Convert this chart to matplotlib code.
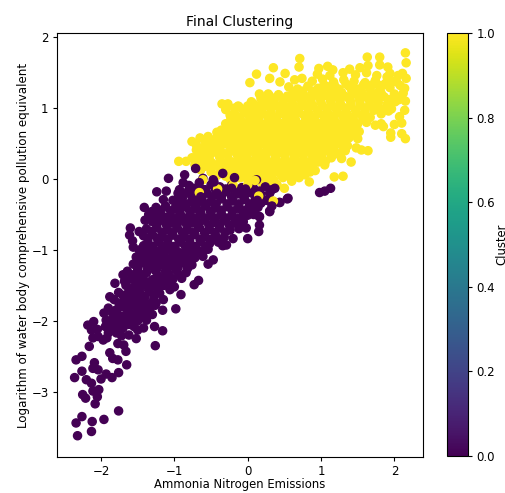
import matplotlib
matplotlib.use("Agg")
import matplotlib.pyplot as plt
import numpy as np

yellow_x = [2.15,2.16,1.80,1.63,0.71,0.70,0.35,0.51,0.12,0.30,0.03,0.44,0.64,0.97,1.09,1.16,1.39,1.53,1.64,1.80,1.91,1.94,2.11,2.16,2.03,2.14,2.12,2.15,2.01,1.96,2.14,1.82,2.07,1.82,2.10,2.00,1.85,1.95,1.95,2.10,2.15,1.64,1.55,1.41,1.30,1.18,1.28,1.05,0.84,0.85,0.50,-0.35,-0.27,-0.13,0.05,0.16,0.28,-0.22,-0.36,-0.27,-0.76,-0.54,-0.43,-0.94,-0.84,-0.70,-0.65,-0.50]
yellow_y = [1.78,1.64,1.72,1.72,1.70,1.58,1.57,1.49,1.48,1.42,1.36,1.37,1.40,1.56,1.59,1.54,1.55,1.57,1.60,1.61,1.58,1.49,1.49,1.42,1.37,1.28,1.21,1.10,1.09,0.99,0.97,0.92,0.88,0.78,0.79,0.77,0.74,0.65,0.59,0.64,0.57,0.40,0.41,0.24,0.04,0.03,0.29,0.20,-0.04,0.10,-0.13,1.06,1.06,1.03,1.09,1.20,1.20,0.85,0.69,0.71,0.53,0.60,0.57,0.25,0.25,0.41,0.29,0.22]

yellow_body = [
 (0.95,1.48),(1.12,1.46),(1.30,1.50),(1.47,1.47),(1.62,1.50),(1.76,1.46),(1.90,1.44),
 (0.74,1.42),(0.88,1.38),(1.02,1.41),(1.17,1.37),(1.31,1.40),(1.45,1.38),(1.60,1.36),(1.74,1.39),(1.88,1.35),(2.05,1.46),
 (0.56,1.30),(0.68,1.27),(0.82,1.31),(0.96,1.28),(1.10,1.30),(1.24,1.27),(1.38,1.31),(1.52,1.27),(1.66,1.29),(1.80,1.26),(1.94,1.29),(2.08,1.32),
 (0.18,1.14),(0.30,1.17),(0.42,1.19),(0.54,1.17),(0.66,1.20),(0.78,1.17),(0.92,1.20),(1.05,1.18),(1.18,1.20),(1.32,1.17),(1.46,1.20),(1.58,1.17),(1.72,1.19),(1.86,1.16),(2.00,1.20),
 (0.08,1.06),(0.20,1.08),(0.34,1.10),(0.48,1.07),(0.60,1.10),(0.74,1.08),(0.86,1.10),(1.00,1.08),(1.13,1.10),(1.26,1.08),(1.40,1.10),(1.53,1.08),(1.66,1.11),(1.78,1.08),(1.90,1.05),(2.06,1.12),
 (-0.30,0.98),(-0.18,1.00),(-0.06,0.97),(0.06,0.99),(0.18,0.97),(0.31,1.00),(0.44,0.97),(0.56,1.00),(0.69,0.98),(0.82,1.00),(0.95,0.97),(1.08,1.00),(1.21,0.98),(1.34,1.00),(1.47,0.97),(1.60,1.00),(1.72,0.97),(1.86,0.99),
 (-0.24,0.90),(-0.11,0.87),(0.01,0.90),(0.13,0.88),(0.26,0.90),(0.39,0.87),(0.51,0.90),(0.64,0.88),(0.77,0.90),(0.90,0.87),(1.03,0.90),(1.16,0.88),(1.29,0.90),(1.42,0.87),(1.55,0.90),(1.67,0.87),
 (-0.30,0.78),(-0.17,0.80),(-0.04,0.78),(0.08,0.80),(0.21,0.77),(0.34,0.80),(0.46,0.78),(0.59,0.80),(0.72,0.77),(0.85,0.80),(0.98,0.78),(1.11,0.80),(1.24,0.77),(1.37,0.80),(1.50,0.78),(1.62,0.80),(1.74,0.76),
 (-0.42,0.66),(-0.28,0.62),(-0.15,0.70),(-0.02,0.67),(0.11,0.70),(0.23,0.67),(0.36,0.70),(0.49,0.68),(0.62,0.70),(0.75,0.67),(0.88,0.70),(1.01,0.67),(1.13,0.70),(1.26,0.67),(1.39,0.70),(1.52,0.67),
 (-0.65,0.58),(-0.58,0.50),(-0.42,0.47),(-0.16,0.58),(-0.03,0.60),(0.09,0.57),(0.22,0.60),(0.35,0.58),(0.48,0.60),(0.60,0.57),(0.73,0.60),(0.86,0.58),(0.99,0.60),(1.12,0.57),(1.25,0.60),(1.38,0.58),(1.50,0.57),
 (-0.70,0.48),(-0.30,0.50),(-0.17,0.47),(-0.05,0.50),(0.08,0.47),(0.21,0.50),(0.33,0.48),(0.46,0.50),(0.59,0.47),(0.72,0.50),(0.85,0.48),(0.98,0.50),(1.10,0.47),(1.23,0.50),(1.36,0.47),(1.48,0.44),
 (-0.58,0.38),(-0.46,0.40),(-0.34,0.37),(-0.21,0.40),(-0.08,0.38),(0.05,0.40),(0.18,0.37),(0.31,0.40),(0.44,0.38),(0.57,0.40),(0.70,0.37),(0.82,0.40),(0.95,0.38),(1.08,0.40),(1.20,0.37),(1.33,0.40),
 (-0.76,0.30),(-0.58,0.27),(-0.38,0.30),(-0.26,0.27),(-0.13,0.30),(0.00,0.28),(0.12,0.30),(0.25,0.27),(0.38,0.30),(0.51,0.28),(0.64,0.30),(0.76,0.27),(0.89,0.30),(1.02,0.28),(1.14,0.30),
 (-0.72,0.20),(-0.58,0.18),(-0.44,0.20),(-0.30,0.18),(-0.17,0.20),(-0.04,0.18),(0.08,0.20),(0.21,0.17),(0.34,0.20),(0.47,0.18),(0.60,0.20),(0.72,0.17),(0.85,0.20),(0.96,0.24),
 (-0.32,0.10),(-0.20,0.08),(-0.08,0.10),(0.04,0.08),(0.17,0.10),(0.30,0.07),(0.42,0.10),(0.55,0.08),(0.68,0.10),(0.78,0.06),(0.92,0.12),
 (-0.24,0.00),(-0.12,0.02),(0.00,-0.01),(0.12,0.01),(0.24,0.00),(0.36,-0.02),(0.48,0.02),(0.60,-0.03),(0.70,0.02),
 (-0.42,0.05),(-0.50,0.10),(0.05,-0.10),(0.28,-0.09),(0.40,-0.08),(0.20,-0.06),
]

yellow_fill = [
 (1.04,1.33),(1.18,1.33),(1.34,1.34),(1.44,1.30),(1.58,1.33),(1.70,1.33),(1.84,1.32),
 (0.62,1.23),(0.75,1.24),(0.88,1.24),(1.01,1.23),(1.14,1.24),(1.28,1.22),(1.42,1.24),(1.56,1.22),(1.68,1.23),(1.82,1.21),
 (0.25,1.12),(0.38,1.14),(0.50,1.13),(0.62,1.14),(0.72,1.13),(0.86,1.14),(0.98,1.14),(1.12,1.14),(1.24,1.14),(1.38,1.14),(1.52,1.13),(1.64,1.14),
 (-0.12,1.02),(0.00,1.03),(0.12,1.03),(0.25,1.04),(0.38,1.04),(0.50,1.03),(0.63,1.04),(0.76,1.04),(0.89,1.04),(1.02,1.03),(1.15,1.04),(1.28,1.03),(1.41,1.04),(1.54,1.03),(1.66,1.04),
 (-0.18,0.93),(-0.04,0.94),(0.07,0.94),(0.20,0.93),(0.32,0.94),(0.45,0.93),(0.58,0.94),(0.70,0.94),(0.83,0.94),(0.96,0.93),(1.09,0.94),(1.22,0.94),(1.35,0.93),(1.48,0.93),(1.60,0.94),
 (-0.23,0.84),(-0.10,0.84),(0.03,0.84),(0.15,0.84),(0.28,0.84),(0.40,0.83),(0.53,0.84),(0.65,0.84),(0.79,0.84),(0.92,0.83),(1.05,0.84),(1.18,0.84),(1.31,0.83),(1.44,0.84),(1.58,0.84),
 (-0.23,0.73),(-0.09,0.74),(0.04,0.74),(0.17,0.73),(0.29,0.74),(0.42,0.74),(0.55,0.74),(0.68,0.73),(0.80,0.74),(0.93,0.74),(1.06,0.73),(1.19,0.74),(1.32,0.73),(1.45,0.73),
 (-0.36,0.60),(-0.22,0.65),(-0.09,0.64),(0.05,0.63),(0.17,0.64),(0.29,0.63),(0.42,0.64),(0.55,0.64),(0.68,0.63),(0.81,0.64),(0.94,0.63),(1.07,0.64),(1.20,0.63),(1.33,0.64),(1.45,0.63),
 (-0.50,0.55),(-0.36,0.53),(-0.23,0.54),(-0.10,0.55),(0.03,0.53),(0.15,0.54),(0.28,0.54),(0.41,0.54),(0.54,0.53),(0.67,0.54),(0.80,0.53),(0.92,0.54),(1.05,0.53),(1.18,0.54),(1.31,0.53),
 (-0.62,0.42),(-0.50,0.45),(-0.38,0.44),(-0.24,0.44),(-0.11,0.44),(0.01,0.44),(0.14,0.43),(0.27,0.44),(0.40,0.44),(0.53,0.43),(0.66,0.44),(0.78,0.44),(0.91,0.43),(1.04,0.44),(1.17,0.43),(1.30,0.44),
 (-0.68,0.34),(-0.52,0.33),(-0.40,0.35),(-0.27,0.34),(-0.14,0.34),(-0.02,0.34),(0.11,0.34),(0.24,0.33),(0.37,0.34),(0.50,0.34),(0.63,0.33),(0.76,0.34),(0.88,0.34),(1.01,0.34),(1.14,0.34),(1.24,0.35),
 (-0.64,0.24),(-0.50,0.24),(-0.36,0.24),(-0.22,0.24),(-0.08,0.24),(0.05,0.24),(0.18,0.24),(0.30,0.24),(0.43,0.23),(0.56,0.24),(0.69,0.24),(0.82,0.24),(0.96,0.32),(1.06,0.25),
 (-0.64,0.13),(-0.50,0.16),(-0.38,0.14),(-0.24,0.14),(-0.11,0.14),(0.00,0.14),(0.13,0.14),(0.26,0.13),(0.38,0.14),(0.51,0.14),(0.64,0.14),(0.76,0.14),(0.88,0.18),
 (-0.30,0.04),(-0.17,0.04),(-0.04,0.04),(0.08,0.05),(0.21,0.04),(0.33,0.04),(0.46,0.05),(0.58,0.03),(0.66,0.06),
 (1.75,1.12),(1.92,1.12),(1.97,1.38),(1.76,1.02),(1.92,0.96),(1.80,1.32),
]

purple_x = [-2.32,-2.13,-2.34,-2.26,-2.12,-1.96,-1.76,-2.08,-2.21,-2.25,-2.05,-2.11,-2.03,-2.36,-2.26,-2.20,-2.13,-2.00,-1.93,-1.85,-1.76,-1.65,-2.11,-2.09,-2.04,-2.34,-2.26,-1.88,-1.84,-1.77,-1.66,-1.69,-1.77,-2.16,-1.26,-1.16,-1.52,-1.97,-2.11,-2.18,-2.10,-2.13,-1.90,-1.79,-1.72,-1.84,-1.96,-1.90,-1.93,-1.79,-1.88,-1.75,-1.81,-1.70,-0.98,-0.91,-0.73,-0.67,-1.16,-1.27,-1.38,-1.50,-1.59,-1.61,-1.70,-1.47,-1.34,-1.25,-1.15,-1.52,-1.65,-1.40,-1.60,-1.61,-1.57,-1.56,-1.48,-1.40,-1.41,-1.31,-1.24,-1.11,-1.15,-1.08,-0.93,-0.88,-0.97,-0.34,0.00,-0.02,0.15,0.16,0.16,0.00,0.30,0.32,0.43,0.54,-0.20,-0.29,-0.54,-0.47,-0.61,-0.71,-0.86,-0.61,-0.47,-0.34,0.12,0.37,0.55,0.44,0.30,0.16,0.98,1.05,1.13]
purple_y = [-3.62,-3.56,-3.44,-3.35,-3.42,-3.39,-3.27,-3.17,-3.09,-3.04,-3.07,-2.99,-2.97,-2.80,-2.71,-2.83,-2.88,-2.82,-2.75,-2.80,-2.73,-2.62,-2.67,-2.59,-2.69,-2.55,-2.50,-2.45,-2.53,-2.55,-2.43,-2.34,-2.32,-2.36,-2.35,-2.14,-2.25,-2.27,-2.24,-2.06,-2.01,-2.13,-2.17,-2.17,-2.21,-2.10,-1.89,-1.82,-1.99,-2.06,-1.66,-1.77,-1.47,-1.35,-1.83,-1.63,-1.49,-1.43,-1.85,-2.08,-1.99,-2.13,-2.01,-1.89,-1.94,-1.84,-1.82,-1.75,-1.70,-1.70,-1.66,-1.66,-0.69,-0.79,-0.87,-0.96,-0.74,-0.58,-0.40,-0.46,-0.18,-0.17,-0.29,0.01,-0.15,-0.05,-0.32,-0.94,-0.84,-0.69,-0.74,-0.65,-0.53,-0.51,-0.45,-0.32,-0.33,-0.28,-0.84,-0.93,-1.20,-1.14,-1.09,0.15,0.06,0.01,-0.01,0.08,-0.01,-0.13,-0.27,-0.33,-0.46,-0.53,-0.19,-0.17,-0.13]

purple_body = [
 (-0.80,-0.09),(-0.65,-0.12),(-0.50,-0.08),(-0.38,-0.11),(-0.22,-0.09),(-0.08,-0.12),(0.08,-0.13),(0.24,-0.11),(0.33,-0.15),
 (-0.95,-0.20),(-0.82,-0.18),(-0.70,-0.22),(-0.56,-0.19),(-0.42,-0.22),(-0.30,-0.18),(-0.14,-0.21),(0.02,-0.19),(0.18,-0.22),(0.30,-0.20),
 (-1.02,-0.30),(-0.90,-0.28),(-0.76,-0.32),(-0.64,-0.29),(-0.50,-0.32),(-0.36,-0.28),(-0.20,-0.31),(-0.04,-0.29),(0.10,-0.32),(0.25,-0.30),
 (-1.25,-0.40),(-1.12,-0.38),(-1.00,-0.42),(-0.86,-0.39),(-0.72,-0.42),(-0.58,-0.38),(-0.44,-0.41),(-0.28,-0.39),(-0.14,-0.42),(0.02,-0.39),(0.14,-0.40),
 (-1.35,-0.50),(-1.22,-0.48),(-1.06,-0.52),(-0.92,-0.49),(-0.78,-0.52),(-0.64,-0.48),(-0.50,-0.51),(-0.36,-0.49),(-0.22,-0.52),(-0.06,-0.49),(0.08,-0.50),
 (-1.30,-0.60),(-1.18,-0.58),(-1.04,-0.62),(-0.90,-0.59),(-0.76,-0.62),(-0.60,-0.58),(-0.46,-0.61),(-0.32,-0.59),(-0.18,-0.62),(-0.06,-0.60),
 (-1.38,-0.70),(-1.24,-0.68),(-1.10,-0.72),(-0.96,-0.69),(-0.82,-0.72),(-0.66,-0.68),(-0.52,-0.71),(-0.38,-0.69),(-0.24,-0.72),(-0.12,-0.70),
 (-1.42,-0.80),(-1.30,-0.78),(-1.16,-0.82),(-1.02,-0.79),(-0.86,-0.82),(-0.72,-0.78),(-0.58,-0.81),(-0.44,-0.79),(-0.32,-0.82),
 (-1.36,-0.90),(-1.22,-0.88),(-1.08,-0.92),(-0.92,-0.89),(-0.78,-0.92),(-0.64,-0.88),(-0.52,-0.91),(-0.40,-0.89),
 (-1.48,-1.00),(-1.36,-0.98),(-1.24,-1.02),(-1.10,-0.99),(-0.96,-1.02),(-0.82,-0.98),(-0.68,-1.01),(-0.54,-0.99),
 (-1.52,-1.10),(-1.40,-1.08),(-1.28,-1.12),(-1.14,-1.09),(-1.00,-1.12),(-0.86,-1.08),(-0.72,-1.11),
 (-1.56,-1.20),(-1.44,-1.18),(-1.30,-1.22),(-1.16,-1.19),(-1.02,-1.22),(-0.88,-1.18),(-0.76,-1.21),
 (-1.64,-1.30),(-1.50,-1.28),(-1.38,-1.32),(-1.26,-1.29),(-1.12,-1.30),(-0.98,-1.28),(-0.84,-1.32),
 (-1.60,-1.41),(-1.46,-1.38),(-1.30,-1.42),(-1.16,-1.40),(-1.02,-1.41),(-0.90,-1.40),
 (-1.66,-1.50),(-1.52,-1.52),(-1.42,-1.48),(-1.30,-1.51),(-1.14,-1.50),(-1.00,-1.52),
 (-1.76,-1.60),(-1.62,-1.58),(-1.48,-1.62),(-1.34,-1.59),(-1.20,-1.61),
 (-1.82,-1.70),(-1.68,-1.72),(-1.56,-1.68),(-1.42,-1.71),(-1.28,-1.69),
 (-1.72,-1.80),(-1.56,-1.79),(-1.40,-1.81),(-1.26,-1.78),
 (-1.84,-1.90),(-1.76,-1.92),(-1.52,-1.90),(-1.42,-1.92),(-1.30,-1.91),
 (-1.86,-2.00),(-1.72,-2.02),(-1.60,-1.98),(-1.50,-2.00),
 (-2.05,-2.12),(-1.94,-2.08),(-1.70,-2.10),(-1.55,-2.08),(-1.42,-2.10),
 (-2.04,-2.22),(-1.92,-2.24),(-1.62,-2.20),
]

purple_fill = [
 (-0.74,-0.13),(-0.58,-0.15),(-0.44,-0.15),(-0.30,-0.14),(-0.15,-0.15),(0.00,-0.15),(0.16,-0.17),
 (-0.88,-0.24),(-0.76,-0.25),(-0.62,-0.25),(-0.49,-0.25),(-0.36,-0.24),(-0.22,-0.25),(-0.06,-0.24),(0.10,-0.25),
 (-0.96,-0.35),(-0.83,-0.35),(-0.70,-0.36),(-0.57,-0.35),(-0.43,-0.35),(-0.28,-0.35),(-0.12,-0.35),(0.03,-0.35),(0.18,-0.34),
 (-1.18,-0.44),(-1.05,-0.45),(-0.93,-0.45),(-0.79,-0.45),(-0.65,-0.45),(-0.51,-0.45),(-0.36,-0.44),(-0.21,-0.45),(-0.06,-0.44),(0.08,-0.45),
 (-1.28,-0.54),(-1.13,-0.54),(-0.99,-0.55),(-0.85,-0.55),(-0.71,-0.55),(-0.57,-0.55),(-0.43,-0.55),(-0.29,-0.55),(-0.14,-0.55),
 (-1.24,-0.64),(-1.11,-0.64),(-0.97,-0.65),(-0.83,-0.65),(-0.68,-0.65),(-0.53,-0.65),(-0.39,-0.65),(-0.25,-0.65),(-0.12,-0.65),
 (-1.31,-0.74),(-1.17,-0.75),(-1.03,-0.75),(-0.89,-0.75),(-0.74,-0.75),(-0.59,-0.75),(-0.45,-0.75),(-0.31,-0.75),
 (-1.36,-0.85),(-1.23,-0.84),(-1.09,-0.85),(-0.94,-0.85),(-0.79,-0.85),(-0.65,-0.85),(-0.51,-0.85),(-0.39,-0.85),
 (-1.42,-0.94),(-1.29,-0.95),(-1.16,-0.95),(-1.00,-0.95),(-0.85,-0.95),(-0.71,-0.95),(-0.58,-0.95),
 (-1.44,-1.05),(-1.32,-1.05),(-1.18,-1.05),(-1.03,-1.05),(-0.89,-1.05),(-0.75,-1.05),(-0.62,-1.05),
 (-1.46,-1.14),(-1.34,-1.15),(-1.21,-1.14),(-1.07,-1.15),(-0.93,-1.15),(-0.80,-1.15),
 (-1.50,-1.24),(-1.37,-1.25),(-1.23,-1.25),(-1.09,-1.25),(-0.95,-1.25),(-0.82,-1.26),
 (-1.56,-1.35),(-1.42,-1.35),(-1.23,-1.35),(-1.07,-1.35),(-0.94,-1.35),
 (-1.68,-1.44),(-1.53,-1.45),(-1.38,-1.45),(-1.22,-1.45),(-1.08,-1.46),
 (-1.60,-1.54),(-1.47,-1.56),(-1.36,-1.54),(-1.22,-1.55),(-1.06,-1.56),
 (-1.70,-1.64),(-1.55,-1.64),(-1.42,-1.65),(-1.27,-1.64),
 (-1.75,-1.75),(-1.62,-1.75),(-1.49,-1.75),(-1.34,-1.76),
 (-1.80,-1.85),(-1.65,-1.84),(-1.48,-1.85),(-1.34,-1.86),
 (-1.80,-1.96),(-1.66,-1.96),(-1.54,-1.94),
 (-1.88,-2.14),(-1.75,-2.06),(-1.62,-2.05),
]

# yellow specks near the purple edge, and the purple points that partly cover them
speck_x = [-0.66,-0.41,-0.20,0.00,0.35,0.15,-0.61,-0.10,0.10]
speck_y = [-0.19,-0.14,-0.08,-0.08,-0.31,-0.24,-0.01,0.02,-0.02]
over_x = [-0.64,-0.42,-0.22,-0.03,0.33,0.13,-0.66,-0.46,-0.18]
over_y = [-0.25,-0.20,-0.13,-0.14,-0.38,-0.30,-0.05,-0.04,0.02]

all_yellow = yellow_body + yellow_fill
all_purple = purple_body + purple_fill
yb_x = [p[0] for p in all_yellow]
yb_y = [p[1] for p in all_yellow]
pb_x = [p[0] for p in all_purple]
pb_y = [p[1] for p in all_purple]

x = np.array(yellow_x + yb_x + purple_x + pb_x + speck_x + over_x)
y = np.array(yellow_y + yb_y + purple_y + pb_y + speck_y + over_y)
cluster = np.array([1]*(len(yellow_x)+len(yb_x)) + [0]*(len(purple_x)+len(pb_x)) + [1]*len(speck_x) + [0]*len(over_x))

W, H = 505, 493
fig = plt.figure(figsize=(W/100, H/100), dpi=100)
ax = fig.add_axes([57/W, 1-457/H, 366/W, 424/H])
cax = fig.add_axes([447/W, 1-456/H, 21/W, 423/H])

sc = ax.scatter(x, y, c=cluster, cmap='viridis', s=34)
ax.set_xlim(-2.6, 2.39)
ax.set_ylim(-3.92, 2.06)
ax.set_xticks([-2, -1, 0, 1, 2])
ax.set_yticks([-3, -2, -1, 0, 1, 2])
ax.tick_params(labelsize=8.5, length=3, pad=3)
ax.set_title('Final Clustering', fontsize=10, pad=5)
ax.set_xlabel('Ammonia Nitrogen Emissions', fontsize=8.4, labelpad=-0.5)
ax.set_ylabel('Logarithm of water body comprehensive pollution equivalent', fontsize=8.6, labelpad=1)

cb = fig.colorbar(sc, cax=cax)
cb.ax.tick_params(labelsize=8.5, length=3, pad=3)
cb.set_label('Cluster', fontsize=8.4, labelpad=0)

fig.savefig('out.png', dpi=100)
